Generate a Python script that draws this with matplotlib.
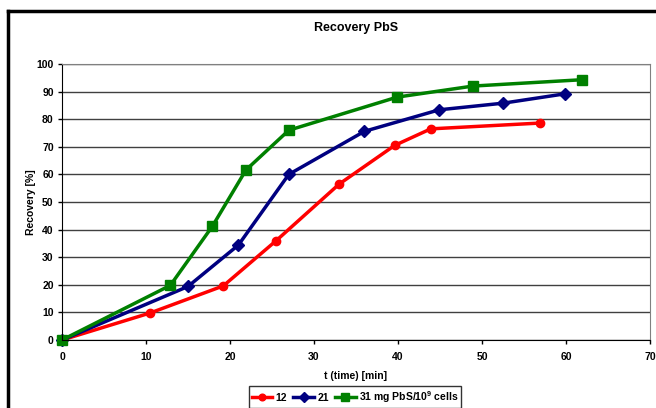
import matplotlib.pyplot as plt
from matplotlib.lines import Line2D

plt.rcParams['font.family'] = ['Liberation Sans', 'DejaVu Sans']
plt.rcParams['font.weight'] = 'bold'
plt.rcParams['mathtext.fontset'] = 'custom'
plt.rcParams['mathtext.rm'] = 'Liberation Sans:bold'
plt.rcParams['mathtext.default'] = 'rm'

# data
x12 = [0, 10.5, 19.2, 25.5, 33, 39.6, 43.9, 56.9]
y12 = [0, 9.8, 19.6, 36, 56.5, 70.5, 76.5, 78.6]
x21 = [0, 15, 21, 27, 36, 44.9, 52.5, 59.9]
y21 = [0, 19.4, 34.4, 60, 75.6, 83.4, 85.8, 89.2]
x31 = [0, 12.9, 17.9, 21.9, 27, 39.9, 48.9, 61.9]
y31 = [0, 19.8, 41.2, 61.6, 76, 88, 92, 94.3]

fig = plt.figure(figsize=(6.56, 4.08), dpi=100)
ax = fig.add_axes([62/656, 1-340/408, 588/656, 276/408])

ax.plot(x12, y12, color='#ff0000', marker='o', markersize=6, lw=2.5, label='12', clip_on=False)
ax.plot(x21, y21, color='#000080', marker='D', markersize=6.5, lw=2.5, label='21', clip_on=False)
ax.plot(x31, y31, color='#008000', marker='s', markersize=7, lw=2.5,
        label='31 mg PbS/10$^9$ cells', clip_on=False)

ax.set_xlim(0, 70)
ax.set_ylim(0, 100)
ax.set_xticks(range(0, 71, 10))
ax.set_yticks(range(0, 101, 10))
ax.yaxis.grid(True, color='#404040', lw=1)
ax.set_axisbelow(True)
ax.tick_params(labelsize=7.5, length=3, width=1, pad=3)
ax.tick_params(axis='x', pad=6)
for s in ['top', 'right']:
    ax.spines[s].set_color('#808080')
for s in ['left', 'bottom']:
    ax.spines[s].set_color('black')
ax.set_xlabel('t (time) [min]', fontsize=7.5, fontweight='bold', labelpad=6)
ax.set_ylabel('Recovery [%]', fontsize=7.5, fontweight='bold', labelpad=0)
ax.set_title('Recovery PbS', fontsize=9, fontweight='bold', pad=24)

# chart area border
fig.add_artist(Line2D([8/656, 8/656], [0, 1-11/408], color='black', lw=2.5))
fig.add_artist(Line2D([8/656, 1], [1-11/408, 1-11/408], color='black', lw=2.5))

leg = fig.legend(loc='center', bbox_to_anchor=(355/656, 1-397/408), ncol=3,
                 fontsize=7.5, frameon=True, fancybox=False, edgecolor='black',
                 handlelength=2.0, columnspacing=0.6, handletextpad=0.3,
                 borderpad=0.25, markerscale=0.8)
leg.get_frame().set_linewidth(1)

fig.savefig('out.png', dpi=100)
